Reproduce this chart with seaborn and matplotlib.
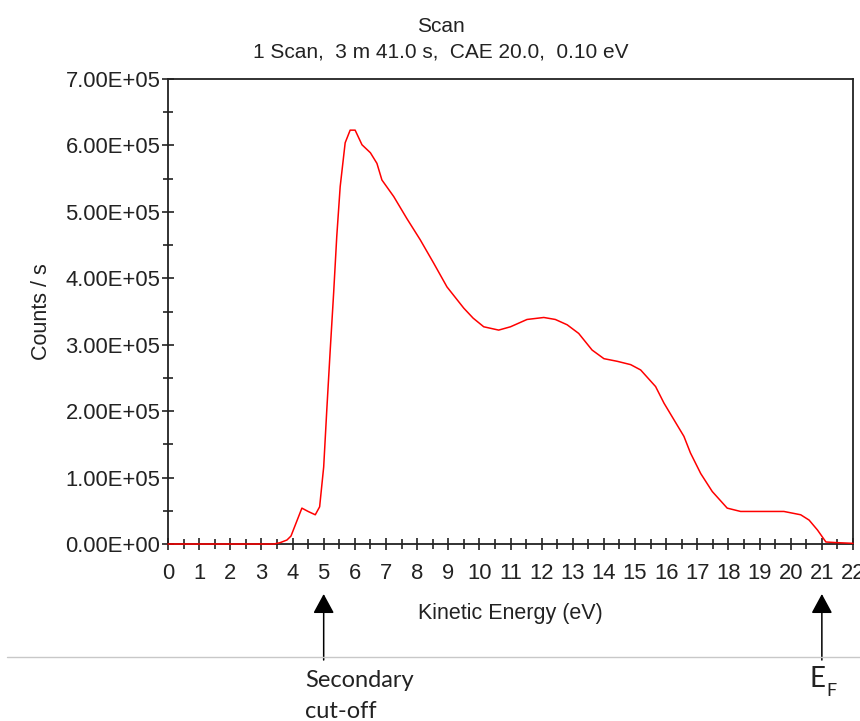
import numpy as np
import pandas as pd
import matplotlib
matplotlib.use('Agg')
import matplotlib.pyplot as plt
from matplotlib.lines import Line2D
from matplotlib.ticker import MultipleLocator, FuncFormatter
import seaborn as sns

# Dane (widmo UPS)
energy_ev = [0.0, 3.40, 3.60, 3.82, 3.95, 4.30, 4.50, 4.73, 4.87, 5.00, 5.10, 5.21,
             5.32, 5.42, 5.53, 5.69, 5.85, 6.01, 6.23, 6.50, 6.71, 6.87, 7.25, 7.67,
             8.10, 8.53, 8.96, 9.50, 9.80, 10.14, 10.62, 11.00, 11.53, 12.07, 12.44,
             12.82, 13.19, 13.62, 14.00, 14.43, 14.86, 15.18, 15.66, 15.93, 16.25,
             16.57, 16.78, 17.11, 17.48, 17.96, 18.39, 19.78, 20.32, 20.59, 20.86,
             21.13, 21.50, 22.00]
counts_1e5 = [0.0, 0.0, 0.02, 0.06, 0.12, 0.54, 0.49, 0.44, 0.56, 1.16, 2.02, 2.92,
              3.78, 4.63, 5.38, 6.04, 6.23, 6.23, 6.01, 5.89, 5.73, 5.48, 5.23, 4.90,
              4.58, 4.23, 3.87, 3.55, 3.40, 3.27, 3.22, 3.27, 3.38, 3.41, 3.38,
              3.30, 3.17, 2.92, 2.79, 2.75, 2.70, 2.62, 2.37, 2.12, 1.87,
              1.62, 1.37, 1.06, 0.79, 0.54, 0.49, 0.49, 0.44, 0.36, 0.21,
              0.03, 0.02, 0.01]
xticks = list(range(0, 23))

TITLE = 'Scan'
SUBTITLE = '1 Scan,  3 m 41.0 s,  CAE 20.0,  0.10 eV'

W, H = 860, 721

sns.set_style('ticks')
plt.rcParams['font.family'] = ['Liberation Sans', 'DejaVu Sans']

df = pd.DataFrame({'Energy': energy_ev, 'Counts': np.array(counts_1e5) * 1e5})

fig = plt.figure(figsize=(W / 100, H / 100), dpi=100)
ax = fig.add_axes([168 / W, 1 - 544 / H, (853 - 168) / W, (544 - 79) / H])

sns.lineplot(data=df, x='Energy', y='Counts', ax=ax, color='#ff0000', linewidth=1.1,
             sort=False, zorder=5, clip_on=False)

ax.set_xlim(0, 22)
ax.set_ylim(0, 7e5)
ax.set_xticks(xticks)
ax.xaxis.set_minor_locator(MultipleLocator(0.5))
ax.yaxis.set_major_locator(MultipleLocator(1e5))
ax.yaxis.set_minor_locator(MultipleLocator(0.5e5))
ax.yaxis.set_major_formatter(FuncFormatter(lambda v, p: '{:.2E}'.format(v)))

for s in ax.spines.values():
    s.set_color('#222222')
    s.set_linewidth(1.3)

ax.tick_params(axis='both', which='major', direction='inout', length=9, width=1.2,
               color='#222222', labelcolor='#222222')
ax.tick_params(axis='both', which='minor', direction='inout', length=7, width=1.2,
               color='#222222')
ax.tick_params(axis='y', which='major', labelsize=15.8, pad=1)
ax.tick_params(axis='x', which='major', labelsize=15.8, pad=9)
for lab in ax.get_xticklabels():
    lab.set_family(['Liberation Sans Narrow', 'Liberation Sans'])

ax.set_xlabel('Kinetic Energy (eV)', fontsize=15.5, color='#222222', labelpad=14)
ax.set_ylabel('Counts / s', fontsize=15.5, color='#222222', labelpad=10)

fig.text(441 / W, 1 - 32 / H, TITLE, ha='center', va='baseline', fontsize=15, color='#222222')
fig.text(441 / W, 1 - 58 / H, SUBTITLE, ha='center', va='baseline', fontsize=15, color='#222222')

# Linia pozioma i strzałki
fig.add_artist(Line2D([7 / W, 1.0], [1 - 657 / H, 1 - 657 / H], transform=fig.transFigure,
                      color='#c8c8c8', linewidth=1))
for xv in (5, 21):
    ax.annotate('', xy=(xv, 1 - 594 / H), xytext=(xv, 1 - 660 / H),
                xycoords=('data', 'figure fraction'), textcoords=('data', 'figure fraction'),
                arrowprops=dict(arrowstyle='-|>,head_length=1.2,head_width=0.65',
                                mutation_scale=10, color='black', lw=1.1,
                                shrinkA=0, shrinkB=0),
                annotation_clip=False)

fig.text(305 / W, 1 - 687 / H, 'Secondary', family=['Lato', 'DejaVu Sans'], fontsize=17,
         color='#222222', va='baseline', ha='left')
fig.text(305 / W, 1 - 718 / H, 'cut-off', family=['Lato', 'DejaVu Sans'], fontsize=17,
         color='#222222', va='baseline', ha='left')
fig.text(809 / W, 1 - 687 / H, 'E', family=['Lato', 'DejaVu Sans'], fontsize=20,
         color='#222222', va='baseline', ha='left')
fig.text(826 / W, 1 - 696 / H, 'F', family=['Lato', 'DejaVu Sans'], fontsize=13,
         color='#222222', va='baseline', ha='left')

fig.savefig('out.png', dpi=100)
